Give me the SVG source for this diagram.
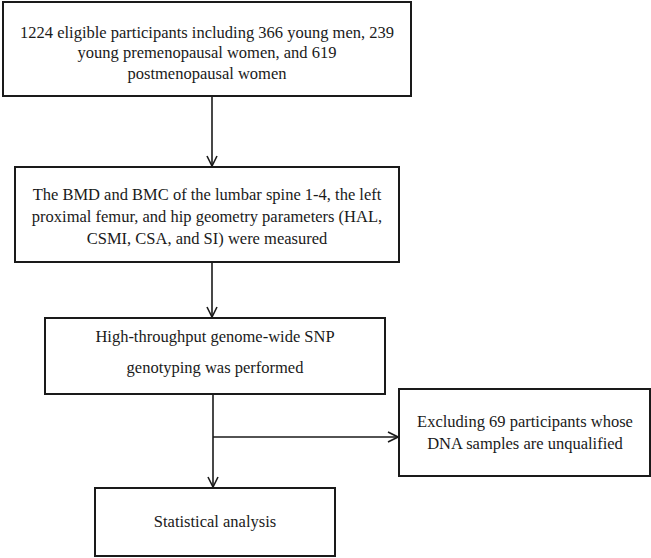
<svg xmlns="http://www.w3.org/2000/svg" width="651" height="558" viewBox="0 0 651 558">
<defs>
<style>
.box{fill:#fff;stroke:#1a1a1a;stroke-width:2}
.t{font-family:"Liberation Serif","Times New Roman",serif;font-size:16.5px;fill:#1a1a1a;text-anchor:middle}
.ln{fill:none;stroke:#1a1a1a;stroke-width:1.6}
</style>
<marker id="ah" markerWidth="12" markerHeight="12" viewBox="0 0 12 12" refX="11" refY="6" orient="auto" markerUnits="userSpaceOnUse">
<path d="M1,1 L11,6 L1,11" fill="none" stroke="#1a1a1a" stroke-width="1.6"/>
</marker>
</defs>
<rect width="651" height="558" fill="#fff"/>
<g id="connectors">
<line class="ln" x1="212" y1="97" x2="212" y2="166" marker-end="url(#ah)"/>
<line class="ln" x1="212" y1="262" x2="212" y2="317" marker-end="url(#ah)"/>
<line class="ln" x1="213" y1="394" x2="213" y2="487" marker-end="url(#ah)"/>
<line class="ln" x1="213" y1="437" x2="398" y2="437" marker-end="url(#ah)"/>
</g>
<g id="n1">
<rect class="box" x="3" y="2" width="408" height="94"/>
<text class="t" x="207" y="38">1224 eligible participants including 366 young men, 239</text>
<text class="t" x="207" y="58">young premenopausal women, and 619</text>
<text class="t" x="207" y="79">postmenopausal women</text>
</g>
<g id="n2">
<rect class="box" x="15" y="167" width="384" height="95"/>
<text class="t" x="207" y="200">The BMD and BMC of the lumbar spine 1-4, the left</text>
<text class="t" x="207" y="222">proximal femur, and hip geometry parameters (HAL,</text>
<text class="t" x="207" y="244">CSMI, CSA, and SI) were measured</text>
</g>
<g id="n3">
<rect class="box" x="45" y="318" width="340" height="76"/>
<text class="t" x="215" y="342">High-throughput genome-wide SNP</text>
<text class="t" x="215" y="373">genotyping was performed</text>
</g>
<g id="n4">
<rect class="box" x="399" y="389" width="251" height="87"/>
<text class="t" x="525" y="427">Excluding 69 participants whose</text>
<text class="t" x="525" y="449">DNA samples are unqualified</text>
</g>
<g id="n5">
<rect class="box" x="95" y="488" width="240" height="68"/>
<text class="t" x="215" y="527">Statistical analysis</text>
</g>
</svg>
